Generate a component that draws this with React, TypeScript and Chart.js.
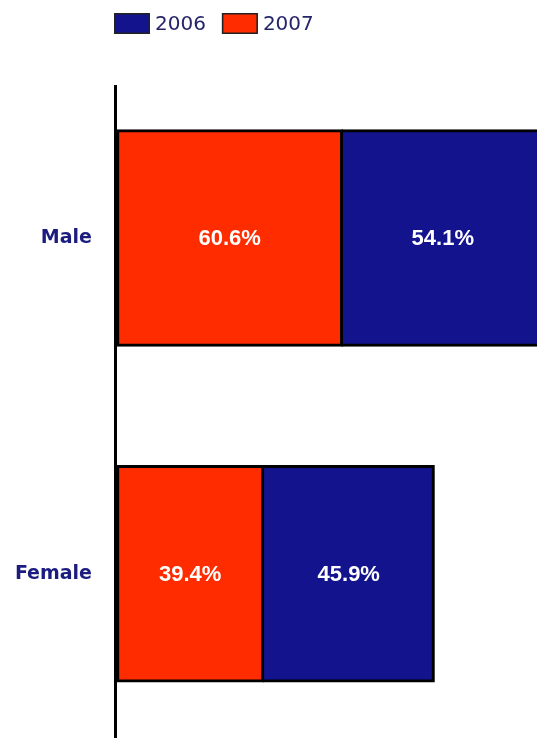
import React, { useEffect, useRef } from "react";
import { Chart, registerables } from "chart.js";

Chart.register(...registerables);

const categories = ["Male", "Female"];
const series2007 = [60.6, 39.4];
const series2006 = [54.1, 45.9];
const seriesNames = ["2007", "2006"];
const legendOrder = [1, 0];
const xMax = 113;

const RED = "#ff2c00";
const BLUE = "#13138e";
const NAVY = "#1c1c80";

const CANVAS_W = 537;
const CANVAS_H = 778;

const axisPlugin = {
  id: "leftAxisLine",
  afterDatasetsDraw(chart: any) {
    const { ctx, chartArea } = chart;
    ctx.save();
    ctx.strokeStyle = "#000";
    ctx.lineWidth = 3;
    ctx.beginPath();
    ctx.moveTo(chartArea.left - 1.5, 85);
    ctx.lineTo(chartArea.left - 1.5, chart.height);
    ctx.stroke();
    ctx.restore();
  },
};

const labelPlugin = {
  id: "barLabels",
  afterDatasetsDraw(chart: any) {
    const ctx = chart.ctx;
    ctx.save();
    ctx.fillStyle = "#ffffff";
    ctx.font = "bold 22px 'Liberation Sans', Arial, sans-serif";
    ctx.textAlign = "center";
    ctx.textBaseline = "middle";
    chart.data.datasets.forEach((ds: any, i: number) => {
      const meta = chart.getDatasetMeta(i);
      meta.data.forEach((el: any, j: number) => {
        const { x, y, base } = el.getProps(["x", "y", "base"], true);
        ctx.fillText(ds.data[j].toFixed(1) + "%", (x + base) / 2, y + 1);
      });
    });
    ctx.restore();
  },
};

const legendPlugin = {
  id: "customLegend",
  afterDraw(chart: any) {
    const ctx = chart.ctx;
    ctx.save();
    ctx.font = "20px 'DejaVu Sans', sans-serif";
    ctx.textBaseline = "middle";
    let x = 114;
    const y = 13;
    const bw = 36;
    const bh = 21;
    legendOrder.forEach((i) => {
      const ds = chart.data.datasets[i];
      ctx.fillStyle = ds.backgroundColor;
      ctx.fillRect(x, y, bw, bh);
      ctx.strokeStyle = "#222";
      ctx.lineWidth = 1.5;
      ctx.strokeRect(x + 0.75, y + 0.75, bw - 1.5, bh - 1.5);
      ctx.fillStyle = "#25256a";
      ctx.textAlign = "left";
      const tx = x + bw + 5;
      ctx.fillText(ds.label, tx, y + bh / 2 + 1);
      x = tx + ctx.measureText(ds.label).width + 16;
    });
    ctx.restore();
  },
};

export default function App() {
  const ref = useRef<HTMLCanvasElement | null>(null);
  useEffect(() => {
    if (!ref.current) return;
    const chart = new Chart(ref.current, {
      type: "bar",
      data: {
        labels: categories,
        datasets: [
          {
            label: seriesNames[0],
            data: series2007,
            backgroundColor: RED,
            borderColor: "#000",
            borderWidth: 3,
            borderSkipped: false,
            inflateAmount: 0.8,
            categoryPercentage: 1,
            barPercentage: 0.643,
          },
          {
            label: seriesNames[1],
            data: series2006,
            backgroundColor: BLUE,
            borderColor: "#000",
            borderWidth: { left: 1, top: 3, right: 3, bottom: 3 },
            borderSkipped: false,
            inflateAmount: 0.8,
            categoryPercentage: 1,
            barPercentage: 0.643,
          },
        ],
      },
      options: {
        indexAxis: "y",
        animation: false,
        responsive: false,
        maintainAspectRatio: false,
        devicePixelRatio: 1,
        layout: { padding: { top: 70, bottom: 4, left: 0, right: 0 } },
        plugins: {
          legend: { display: false },
          tooltip: { enabled: false },
        },
        scales: {
          x: {
            stacked: true,
            display: false,
            min: 0,
            max: xMax,
          },
          y: {
            stacked: true,
            grid: { display: false, drawTicks: false },
            border: { display: false },
            ticks: {
              color: NAVY,
              padding: 25,
              font: { family: "'DejaVu Sans', sans-serif", size: 19, weight: "bold" },
            },
            afterFit(scale: any) {
              scale.width = 117;
            },
          },
        },
      },
      plugins: [axisPlugin, labelPlugin, legendPlugin],
    } as any);
    return () => chart.destroy();
  }, []);
  return (
    <div style={{ position: "fixed", left: 0, top: 0, width: CANVAS_W, height: CANVAS_H, background: "#fff" }}>
      <canvas ref={ref} width={CANVAS_W} height={CANVAS_H} style={{ display: "block", width: CANVAS_W, height: CANVAS_H }} />
    </div>
  );
}
